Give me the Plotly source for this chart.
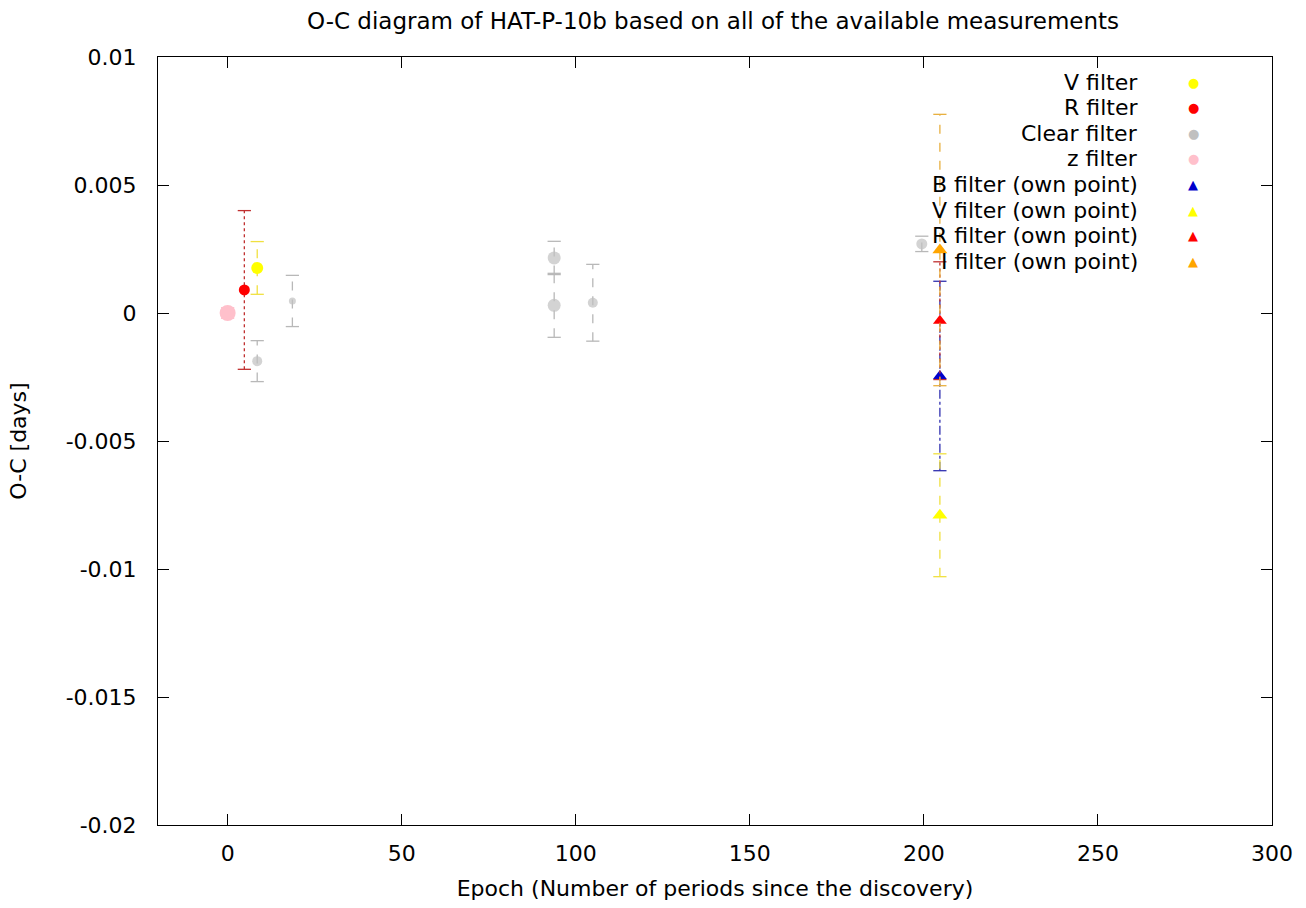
import plotly.graph_objects as go

# ---------------- data ----------------
# Published measurements (circles)
v_epoch = [8.5]
v_oc = [0.00176]
v_err = [0.00103]

r_epoch = [4.8]
r_oc = [0.0009]
r_err = [0.0031]

clear_epoch = [8.5, 18.6, 93.8, 93.8, 104.9, 199.4]
clear_oc = [-0.00188, 0.00047, 0.00215, 0.0003, 0.0004, 0.0027]
clear_err = [0.0008, 0.001, 0.00065, 0.00125, 0.0015, 0.0003]

z_epoch = [0.0]
z_oc = [0.0]
z_err = [0.0002]

# Own points (triangles)
b_own_epoch = [204.6]
b_own_oc = [-0.00246]
b_own_err = [0.0037]

v_own_epoch = [204.6]
v_own_oc = [-0.0079]
v_own_err = [0.0024]

r_own_epoch = [204.6]
r_own_oc = [-0.0003]
r_own_err = [0.0023]

i_own_epoch = [204.6]
i_own_oc = [0.00246]
i_own_err = [0.0053]

x_tickvals = [0, 50, 100, 150, 200, 250, 300]
y_tickvals = [0.01, 0.005, 0, -0.005, -0.01, -0.015, -0.02]
y_ticktext = ["0.01", "0.005", "0", "-0.005", "-0.01", "-0.015", "-0.02"]

title_text = "O-C diagram of HAT-P-10b based on all of the available measurements"
x_title = "Epoch (Number of periods since the discovery)"
y_title = "O-C [days]"

# ---------------- styles ----------------
clear_sizes = [10, 7, 13, 13, 10, 11]
FONT = "DejaVu Sans, Liberation Sans, Arial, sans-serif"
FS = 22
CAP = 1.9  # half-width of error-bar caps in epoch units

fig = go.Figure()


def add_series(name, x, y, err, color, err_color, symbol, size, dash):
    xs, ys, cx, cy = [], [], [], []
    for xi, yi, ei in zip(x, y, err):
        xs += [xi, xi, None]
        ys += [yi - ei, yi + ei, None]
        cx += [xi - CAP, xi + CAP, None, xi - CAP, xi + CAP, None]
        cy += [yi - ei, yi - ei, None, yi + ei, yi + ei, None]
    fig.add_trace(go.Scatter(x=xs, y=ys, mode="lines",
                             line=dict(color=err_color, width=1.3, dash=dash),
                             hoverinfo="skip", showlegend=False))
    fig.add_trace(go.Scatter(x=cx, y=cy, mode="lines",
                             line=dict(color=err_color, width=1.3),
                             hoverinfo="skip", showlegend=False))
    fig.add_trace(go.Scatter(x=x, y=y, mode="markers", name=name,
                             marker=dict(color=color, symbol=symbol, size=size,
                                         line=dict(width=0)),
                             showlegend=False))


add_series("V filter", v_epoch, v_oc, v_err, "#ffff00", "#f0e040", "circle", 12, "dash")
add_series("R filter", r_epoch, r_oc, r_err, "#ff0000", "#c03030", "circle", 11, "dot")
add_series("Clear filter", clear_epoch, clear_oc, clear_err, "#c0c0c0", "#b8b8b8", "circle", clear_sizes, "dash")
add_series("z filter", z_epoch, z_oc, z_err, "#ffc0cb", "#ffb0c0", "circle", 16, "solid")
add_series("B filter (own point)", b_own_epoch, b_own_oc, b_own_err, "#0000cc", "#3030b0", "triangle-up", 12, "dashdot")
add_series("V filter (own point)", v_own_epoch, v_own_oc, v_own_err, "#ffff00", "#f0e040", "triangle-up", 13, "dash")
add_series("R filter (own point)", r_own_epoch, r_own_oc, r_own_err, "#ff0000", "#c03030", "triangle-up", 12, "dot")
add_series("I filter (own point)", i_own_epoch, i_own_oc, i_own_err, "#ffa500", "#e8b040", "triangle-up", 13, "dash")

# ---------------- gnuplot-style key (text right-aligned, sample on the right) ----------------
legend_labels = ["V filter", "R filter", "Clear filter", "z filter",
                 "B filter (own point)", "V filter (own point)",
                 "R filter (own point)", "I filter (own point)"]
legend_colors = ["#ffff00", "#ff0000", "#c0c0c0", "#ffc0cb",
                 "#0000cc", "#ffff00", "#ff0000", "#ffa500"]
legend_glyphs = ["●", "●", "●", "●", "▲", "▲", "▲", "▲"]

plot_left, plot_right, plot_top, plot_bottom = 158, 1272, 57, 825
pw, ph = plot_right - plot_left, plot_bottom - plot_top
for i, (lab, col, gl) in enumerate(zip(legend_labels, legend_colors, legend_glyphs)):
    py = 82 + 25.6 * i
    yp = 1 - (py - plot_top) / ph
    fig.add_annotation(xref="paper", yref="paper", x=(1140 - plot_left) / pw, y=yp,
                       text=lab, showarrow=False, xanchor="right", yanchor="middle",
                       font=dict(family=FONT, size=FS, color="black"))
    fig.add_annotation(xref="paper", yref="paper", x=(1193 - plot_left) / pw, y=yp,
                       text=gl, showarrow=False, xanchor="center", yanchor="middle",
                       font=dict(family="DejaVu Sans", size=13, color=col))

fig.update_layout(
    width=1306, height=908,
    margin=dict(l=plot_left, r=1306 - plot_right, t=plot_top, b=908 - plot_bottom),
    paper_bgcolor="white", plot_bgcolor="white",
    font=dict(family=FONT, size=FS, color="black"),
    title=dict(text=title_text, x=713 / 1306, xanchor="center",
               y=1 - 21 / 908, yanchor="middle", yref="container",
               font=dict(family=FONT, size=23, color="black")),
    showlegend=False,
    xaxis=dict(range=[-20, 300], tickvals=x_tickvals, ticks="inside", ticklen=11,
               tickcolor="black", showline=True, linecolor="black", linewidth=1,
               mirror="ticks", showgrid=False, zeroline=False,
               ticklabelstandoff=9,
               title=dict(text=x_title, standoff=15, font=dict(family=FONT, size=FS))),
    yaxis=dict(range=[-0.02, 0.01], tickvals=y_tickvals, ticktext=y_ticktext,
               ticks="inside", ticklen=11, tickcolor="black", showline=True,
               linecolor="black", linewidth=1, mirror="ticks", showgrid=False,
               zeroline=False, ticklabelstandoff=16,
               title=dict(text=y_title, standoff=32, font=dict(family=FONT, size=FS))),
)

fig.write_html("out.html")
